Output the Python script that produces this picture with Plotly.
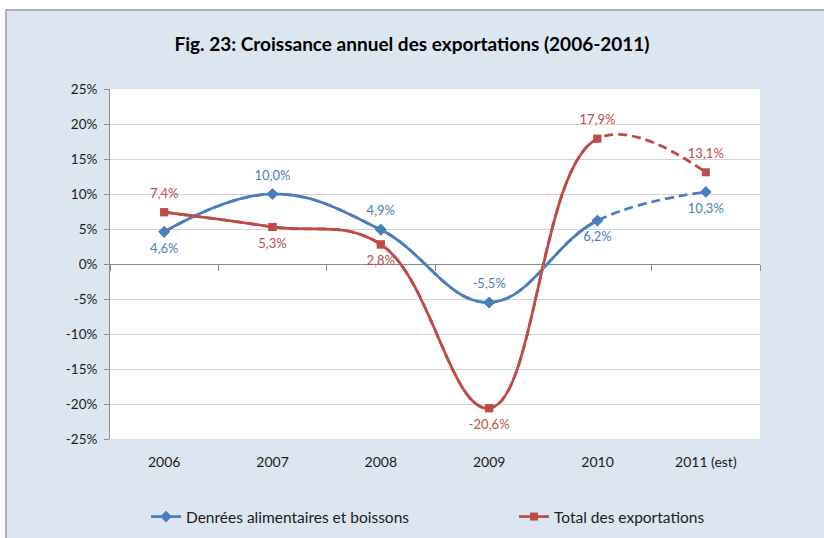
import plotly.graph_objects as go

# Annual export growth, in percent
years = ["2006", "2007", "2008", "2009", "2010", "2011 (est)"]
food_bev = [4.6, 10.0, 4.9, -5.5, 6.2, 10.3]
total_exports = [7.4, 5.3, 2.8, -20.6, 17.9, 13.1]
food_label_pos = ["bottom center", "top center", "top center", "top center", "bottom center", "bottom center"]
total_label_pos = ["top center", "bottom center", "bottom center", "bottom center", "top center", "top center"]
y_tick_vals = [-25, -20, -15, -10, -5, 0, 5, 10, 15, 20, 25]
y_tick_text = ["-25%", "-20%", "-15%", "-10%", "-5%", "0%", "5%", "10%", "15%", "20%", "25%"]

BLUE = "#4a7ebb"
RED = "#be4b48"
FONT = "Lato"
SMOOTH = 1.15

idx = list(range(len(years)))
n = len(years)
last_actual = n - 2  # 2010: last non-estimated year
x_range = [-0.5, n - 0.5]
cut_frac = (last_actual + 0.5) / n


def fmt(v):
    return f"{v:.1f}%".replace(".", ",")


series = [
    ("Denrées alimentaires et boissons", food_bev, BLUE, "diamond", 9, food_label_pos, "legend"),
    ("Total des exportations", total_exports, RED, "square", 8, total_label_pos, "legend2"),
]

fig = go.Figure()

# Dashed full curve (visible only on the estimated segment)
for name, vals, col, sym, msz, pos, leg in series:
    fig.add_trace(go.Scatter(
        x=idx, y=vals, mode="lines", line=dict(color=col, width=2.75, shape="spline",
                                               smoothing=SMOOTH, dash="9px,5px"),
        showlegend=False, hoverinfo="skip", xaxis="x", yaxis="y"))

# Solid curve, clipped at the last actual year
for name, vals, col, sym, msz, pos, leg in series:
    fig.add_trace(go.Scatter(
        x=idx, y=vals, name=name, mode="lines+markers",
        line=dict(color=col, width=2.75, shape="spline", smoothing=SMOOTH),
        marker=dict(symbol=sym, size=msz, color=col),
        showlegend=True, legend=leg, xaxis="x2", yaxis="y2"))

# Markers and value labels on top
for name, vals, col, sym, msz, pos, leg in series:
    fig.add_trace(go.Scatter(
        x=idx, y=vals, mode="markers", marker=dict(symbol=sym, size=msz, color=col),
        showlegend=False, xaxis="x3", yaxis="y3"))
    fig.add_trace(go.Scatter(
        x=idx, y=vals, mode="markers+text", text=[fmt(v) for v in vals],
        textposition=pos, textfont=dict(family=FONT, size=13, color=col),
        marker=dict(size=16, color="rgba(0,0,0,0)"),
        showlegend=False, hoverinfo="skip", cliponaxis=False, xaxis="x3", yaxis="y3"))

ML, MR, MT, MB = 110, 64, 89, 99
W, H = 824, 538
pw, ph = W - ML - MR, H - MT - MB
legend_y = (H - MB - 517) / ph

fig.update_layout(
    width=W, height=H,
    margin=dict(l=ML, r=MR, t=MT, b=MB, pad=0, autoexpand=False),
    paper_bgcolor="white",
    plot_bgcolor="rgba(0,0,0,0)",
    font=dict(family=FONT, size=13, color="#1a1a1a"),
    title=dict(text="<b>Fig. 23: Croissance annuel des exportations (2006-2011)</b>",
               x=0.5, xanchor="center", y=1 - 44 / H, yanchor="middle",
               font=dict(family=FONT, size=19, color="#000000")),
    xaxis=dict(range=x_range, domain=[0, 1], tickvals=idx, ticktext=years,
               showgrid=False, zeroline=False, showline=False, ticks="",
               ticklabelstandoff=13, tickfont=dict(size=14, color="#1a1a1a"),
               anchor="y"),
    yaxis=dict(range=[-25, 25], domain=[0, 1], tickvals=y_tick_vals, ticktext=y_tick_text,
               showgrid=True, gridcolor="#d4d4d4", gridwidth=1,
               zeroline=True, zerolinecolor="#8c8c8c", zerolinewidth=1,
               showline=True, linecolor="#8c8c8c", linewidth=1,
               ticks="outside", ticklen=5, tickcolor="#8c8c8c",
               ticklabelstandoff=4, tickfont=dict(size=13.5, color="#1a1a1a"),
               anchor="x"),
    xaxis2=dict(range=[-0.5, last_actual], domain=[0, cut_frac], visible=False,
                anchor="y2"),
    yaxis2=dict(range=[-25, 25], domain=[0, 1], visible=False, anchor="x2"),
    xaxis3=dict(range=x_range, domain=[0, 1], anchor="free", position=0.5,
                tickvals=[i - 0.5 for i in range(n + 1)], showticklabels=False,
                ticks="outside", ticklen=6, tickcolor="#8c8c8c",
                showgrid=False, zeroline=False, showline=False),
    yaxis3=dict(range=[-25, 25], domain=[0, 1], visible=False, anchor="x3"),
    legend=dict(orientation="h", x=(146 - ML) / pw, xanchor="left",
                y=legend_y, yanchor="middle", bgcolor="rgba(0,0,0,0)",
                font=dict(family=FONT, size=15.5, color="#1a1a1a")),
    legend2=dict(orientation="h", x=(514 - ML) / pw, xanchor="left",
                 y=legend_y, yanchor="middle", bgcolor="rgba(0,0,0,0)",
                 font=dict(family=FONT, size=15.5, color="#1a1a1a")),
    separators=", ",
    shapes=[
        dict(type="rect", xref="paper", yref="paper", layer="below",
             x0=(6 - ML) / pw, x1=(W + 10 - ML) / pw,
             y0=(H - MB - (H + 10)) / ph, y1=(H - MB - 10) / ph,
             fillcolor="#dce6f1", line=dict(color="#9a9a9a", width=1.5)),
        dict(type="rect", xref="paper", yref="paper", layer="below",
             x0=0, x1=1, y0=0, y1=1, fillcolor="white", line=dict(width=0)),
    ],
)

fig.write_html("out.html")
